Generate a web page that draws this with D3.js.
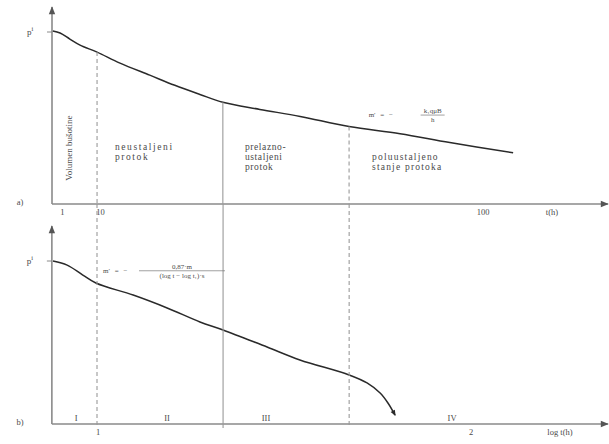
<!DOCTYPE html>
<html><head><meta charset="utf-8">
<script src="https://cdn.jsdelivr.net/npm/d3@7"></script>
<style>
html,body{margin:0;padding:0;background:#fff;}
svg text{font-family:"Liberation Serif","DejaVu Serif",serif;fill:#4a4a4a;}
</style></head>
<body><svg id="c" width="609" height="444"></svg>
<script>
// ---- data (top: linear time, bottom: log time) ----
const topT = [0.2, 1.9, 4.2, 6.6, 10.6, 16, 23, 28.9, 34.8, 40.2, 48.9, 58.4, 69.9, 81.9, 93.6, 108.5];
const topP = [100.6, 99.4, 95.9, 92.4, 88.3, 81.9, 74.9, 69, 63.7, 59.1, 55, 50.9, 45, 40.9, 35.7, 29.8];
const botLogT = [0.882, 0.92, 0.962, 0.997, 1.097, 1.188, 1.276, 1.338, 1.456, 1.544, 1.676, 1.724, 1.759, 1.78, 1.799];
const botP = [100, 97.5, 91.4, 86.5, 79.1, 71.2, 62.6, 57.7, 47.2, 39.3, 30.1, 25.2, 19.0, 12.9, 5.5];
const topTicks = ["1", "10", "100"];
const topTickVals = [1, 10, 100];
const botTicks = ["1", "2"];
const botTickVals = [1, 2];
const topAxisMin = 0;
const botAxisMin = 0.879;
const topBounds = [10.6, 40.2, 69.9];
const botBounds = [1.0, 1.338, 1.676];
const boundDashed = [true, false, true];
const regionNames = ["I", "II", "III", "IV"];
const regionLogT = [0.944, 1.188, 1.453, 1.952];
const topRegionText = [["neustaljeni", "protok"], ["prelazno-", "ustaljeni", "protok"], ["poluustaljeno", "stanje protoka"]];
const topRegionT = [14.8, 45.4, 75.3];
const topRegionP = [31.4, 31.4, 25.6];

const svg = d3.select("#c");
const W = 609;
const axisCol = "#8a8a8a", curveCol = "#2a2a2a", vCol = "#9a9a9a";

// scales
const xTop = d3.scaleLinear().domain([0, 100]).range([52, 477]);
const yTop = d3.scaleLinear().domain([0, 100]).range([204, 32]);
const xBot = d3.scaleLinear().domain([1, 2]).range([97, 470]);
const yBot = d3.scaleLinear().domain([0, 100]).range([424, 261]);

// arrow markers
const defs = svg.append("defs");
defs.append("marker").attr("id", "arr").attr("viewBox", "0 0 10 10").attr("refX", 9).attr("refY", 5)
  .attr("markerWidth", 7).attr("markerHeight", 5).attr("orient", "auto")
  .append("path").attr("d", "M0,1L10,5L0,9z").attr("fill", "#555");
defs.append("marker").attr("id", "arrC").attr("viewBox", "0 0 10 10").attr("refX", 8).attr("refY", 5)
  .attr("markerWidth", 5).attr("markerHeight", 4).attr("orient", "auto")
  .append("path").attr("d", "M0,1L10,5L0,9z").attr("fill", curveCol);

function panel(x0, ys, yTopPx, label, xs, tickVals, tickLabels, xName, xNameX, tickDx) {
  const g = svg.append("g");
  const y0 = ys(0);
  g.append("line").attr("x1", x0).attr("x2", x0).attr("y1", y0).attr("y2", yTopPx)
    .attr("stroke", axisCol).attr("stroke-width", 1.6).attr("marker-end", "url(#arr)");
  g.append("line").attr("x1", x0).attr("x2", W - 1).attr("y1", y0).attr("y2", y0)
    .attr("stroke", axisCol).attr("stroke-width", 1.6).attr("marker-end", "url(#arr)");
  const yi = ys(100);
  g.append("line").attr("x1", x0 - 5).attr("x2", x0).attr("y1", yi).attr("y2", yi).attr("stroke", axisCol);
  const t = g.append("text").attr("x", x0 - 25).attr("y", yi + 3).attr("font-size", 9).text("p");
  t.append("tspan").attr("dy", -4).attr("font-size", 6.5).text("i");
  g.append("text").attr("x", 20).attr("y", y0 + 1).attr("font-size", 8.5).attr("text-anchor", "middle").text(label);
  tickVals.forEach((v, i) => {
    g.append("text").attr("x", xs(v) + tickDx).attr("y", y0 + 11).attr("font-size", 8.5)
      .attr("text-anchor", "middle").text(tickLabels[i]);
  });
  g.append("text").attr("x", xNameX).attr("y", y0 + 11).attr("font-size", 8.5)
    .attr("text-anchor", "middle").text(xName);
  return g;
}

panel(xTop(topAxisMin), yTop, 7, "a)", xTop, topTickVals, topTicks, "t(h)", 552, 6);
panel(xBot(botAxisMin), yBot, 226, "b)", xBot, botTickVals, botTicks, "log t(h)", 560, 1);

// curves
const lineTop = d3.line().x((d, i) => xTop(topT[i])).y((d, i) => yTop(topP[i])).curve(d3.curveCatmullRom);
svg.append("path").datum(topT).attr("d", lineTop).attr("fill", "none").attr("stroke", curveCol).attr("stroke-width", 1.5);
const lineBot = d3.line().x((d, i) => xBot(botLogT[i])).y((d, i) => yBot(botP[i])).curve(d3.curveCatmullRom);
svg.append("path").datum(botLogT).attr("d", lineBot).attr("fill", "none").attr("stroke", curveCol)
  .attr("stroke-width", 1.5).attr("marker-end", "url(#arrC)");

// vertical boundaries
const topInterp = d3.scaleLinear().domain(topT).range(topP);
topBounds.forEach((b, i) => {
  svg.append("line").attr("x1", xTop(b)).attr("x2", xTop(b)).attr("y1", yTop(topInterp(b))).attr("y2", yTop(0))
    .attr("stroke", vCol).attr("stroke-width", 1.1).attr("stroke-dasharray", boundDashed[i] ? "4,3" : null);
});
botBounds.forEach((b, i) => {
  svg.append("line").attr("x1", xBot(b)).attr("x2", xBot(b)).attr("y1", yTop(0)).attr("y2", yBot(0) + 4)
    .attr("stroke", vCol).attr("stroke-width", 1.1).attr("stroke-dasharray", boundDashed[i] ? "4,3" : null);
});

// region texts top
topRegionText.forEach((lines, i) => {
  const tx = svg.append("text").attr("x", xTop(topRegionT[i])).attr("y", yTop(topRegionP[i]))
    .attr("font-size", 9.5).attr("letter-spacing", i === 0 ? 1.6 : (i === 2 ? 1.2 : 0.6));
  lines.forEach((l, j) => tx.append("tspan").attr("x", xTop(topRegionT[i])).attr("dy", j === 0 ? 0 : 10).text(l));
});
// vertical label
svg.append("text").attr("transform", `translate(${xTop(4.8)},${yTop(32.5)}) rotate(-90)`)
  .attr("text-anchor", "middle").attr("font-size", 9).text("Volumen bušotine");

// region numerals bottom
regionNames.forEach((r, i) => {
  svg.append("text").attr("x", xBot(regionLogT[i])).attr("y", yBot(0) - 3).attr("font-size", 8.5)
    .attr("text-anchor", "middle").text(r);
});

// formulas
function formula(x, y, gap, num, den, lineW) {
  const g = svg.append("g").attr("font-size", 7);
  g.append("text").attr("x", x).attr("y", y + 2).attr("word-spacing", 3).text("m′ = −");
  const fx = x + gap;
  g.append("text").attr("x", fx + lineW / 2).attr("y", y - 2).attr("text-anchor", "middle").text(num);
  g.append("line").attr("x1", fx).attr("x2", fx + lineW).attr("y1", y).attr("y2", y).attr("stroke", "#777").attr("stroke-width", 0.7);
  g.append("text").attr("x", fx + lineW / 2).attr("y", y + 7).attr("text-anchor", "middle").text(den);
}
formula(xTop(74.5), yTop(51.7), 52, "k₁qμB", "h", 24);
formula(103, yBot(94), 36, "0,87·m", "(log t − log t₁)·s", 86);
</script></body></html>
